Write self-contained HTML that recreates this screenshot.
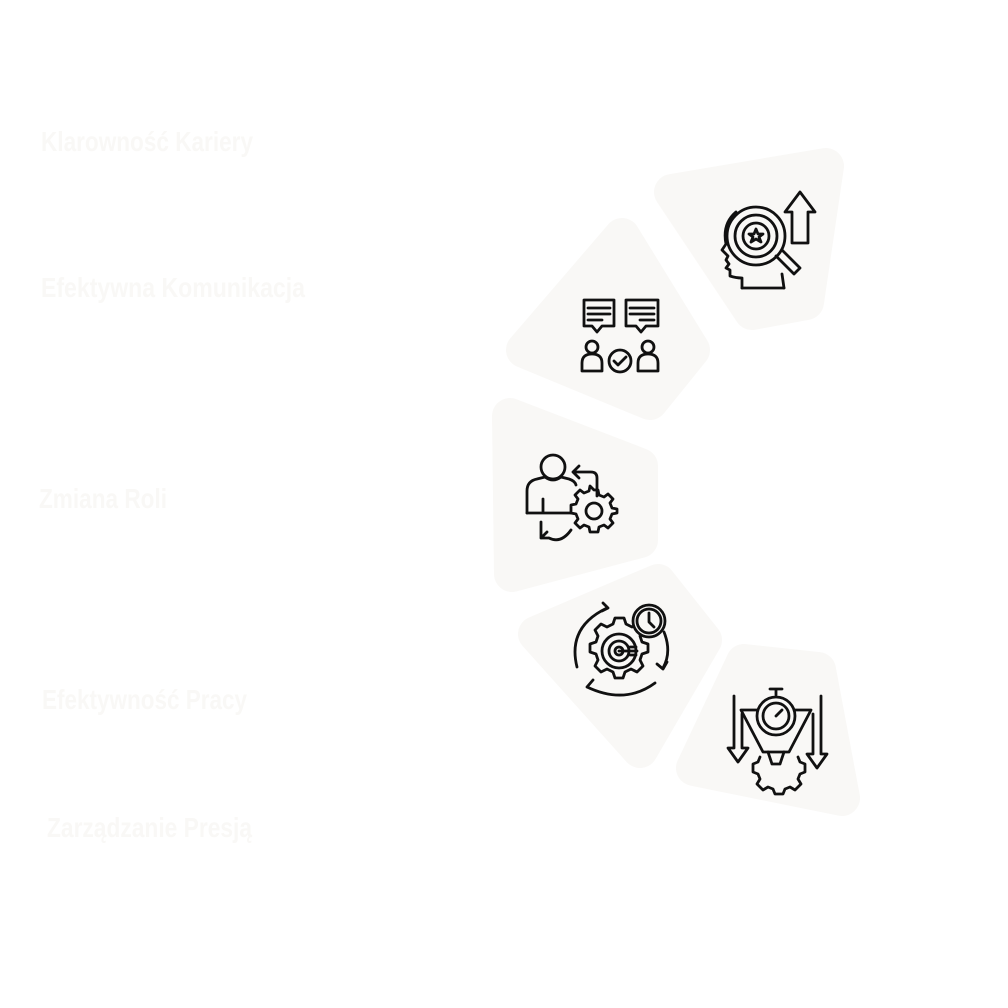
<!DOCTYPE html>
<html><head><meta charset="utf-8"><style>
html,body{margin:0;padding:0;background:#fff;width:1008px;height:1008px;overflow:hidden}
svg{display:block}
.lbl{font-family:"Liberation Sans",sans-serif;font-weight:bold;font-size:28px;fill:#f9f8f6}
.bg{fill:#f9f8f6;stroke:#f9f8f6;stroke-width:36;stroke-linejoin:round}
.ic{fill:none;stroke:#111;stroke-width:2.8;stroke-linejoin:round;stroke-linecap:round}
</style></head><body>
<svg width="1008" height="1008" viewBox="0 0 1008 1008">
<text class="lbl" x="41" y="151" textLength="212" lengthAdjust="spacingAndGlyphs">Klarowność Kariery</text>
<text class="lbl" x="41" y="297" textLength="264" lengthAdjust="spacingAndGlyphs">Efektywna Komunikacja</text>
<text class="lbl" x="39" y="508" textLength="128" lengthAdjust="spacingAndGlyphs">Zmiana Roli</text>
<text class="lbl" x="42" y="709" textLength="205" lengthAdjust="spacingAndGlyphs">Efektywność Pracy</text>
<text class="lbl" x="47" y="837" textLength="205" lengthAdjust="spacingAndGlyphs">Zarządzanie Presją</text>

<polygon class="bg" points="672,192 826,166 806,302 752,312"/>
<polygon class="bg" points="622,236 524,350 650,402 692,350"/>
<polygon class="bg" points="510,416 640,466 640,540 512,574"/>
<polygon class="bg" points="536,634 658,582 704,640 640,750"/>
<polygon class="bg" points="694,768 744,662 818,670 842,798"/>

<!-- icon 1: head + magnifier + arrow -->
<g class="ic">
<path d="M742,288 L742,278 Q736,278 730,276 L730,270 L726,268 L729,264 L726,260 L728,256 L722,250 L726,244 Q722,224 736,212"/>
<path d="M784,288 L782,274"/>
<path d="M742,288 H784"/>
<circle cx="756" cy="236" r="29" style="fill:#f9f8f6"/><circle cx="756" cy="236" r="21"/><circle cx="756" cy="236" r="13"/>
<path d="M756,229 l2,5 5,0 -4,3 2,5 -5,-3 -5,3 2,-5 -4,-3 5,0z"/>
<path d="M776,256 L794,274 L800,268 L782,250"/>
<path d="M792,243 L792,212 L785,212 L800,192 L815,212 L808,212 L808,243 Z"/>
</g>

<!-- icon 2: communication -->
<g class="ic">
<path d="M584,300 h30 v26 h-12 l-5,6 -5,-6 h-8 z"/>
<path d="M588,308 h22 M588,314 h22 M588,320 h14"/>
<path d="M626,300 h32 v26 h-12 l-5,6 -5,-6 h-10 z"/>
<path d="M630,308 h24 M630,314 h24 M640,320 h14"/>
<circle cx="592" cy="347" r="6"/><path d="M582,371 v-8 q0,-9 10,-9 q10,0 10,9 v8 z"/>
<circle cx="648" cy="347" r="6"/><path d="M638,371 v-8 q0,-9 10,-9 q10,0 10,9 v8 z"/>
<circle cx="620" cy="361" r="11"/><path d="M614,361 l4,4 8,-8"/>
</g>

<!-- icon 3: role change -->
<g class="ic">
<circle cx="553" cy="467" r="12"/>
<path d="M527,513 v-22 q0,-10 10,-12 l8,-2 q8,6 16,0 l8,2 q6,2 7,6"/>
<path d="M527,513 h44 M543,513 v-14"/>
<path d="M597,496 v-18 q0,-6 -6,-6 h-18 M579,466 l-6,6 6,6"/>
<circle cx="594" cy="511" r="8"/>
<path d="M594,490 l4,0 1,5 5,2 4,-3 5,5 -3,4 2,5 5,1 0,4 -5,1 -2,5 3,4 -5,5 -4,-3 -5,2 -1,5 -8,0 -1,-5 -5,-2 -4,3 -5,-5 3,-4 -2,-5 -5,-1 0,-8 5,-1 2,-5 -3,-4 5,-5 4,3 5,-2 1,-5z"/>
<path d="M541,522 v16 h8 M541,538 l6,-6 M549,538 q12,6 22,-8"/>
</g>

<!-- icon 4: efficiency target gear -->
<g class="ic">
<circle cx="619" cy="651" r="17"/><circle cx="619" cy="651" r="10"/><circle cx="619" cy="651" r="4"/>
<path d="M619,651 h18 M630,647 h6 M630,655 h6"/>
<path d="M619,618 l5,0 2,6 6,3 6,-3 5,6 -3,6 2,6 6,2 0,8 -6,2 -2,6 3,6 -6,6 -6,-3 -6,3 -2,6 -8,0 -2,-6 -6,-3 -6,3 -6,-6 3,-6 -2,-6 -6,-2 0,-8 6,-2 2,-6 -3,-6 6,-6 6,3 6,-3 2,-6z"/>
<circle cx="649" cy="621" r="16" style="fill:#f9f8f6"/><circle cx="649" cy="621" r="12"/>
<path d="M649,613 v9 l5,5"/>
<path d="M577,667 q-10,-40 30,-59 M603,603 l5,5 -6,3"/>
<path d="M664,632 q8,20 -1,36 M657,664 l6,5 4,-7"/>
<path d="M655,683 q-30,22 -68,4 M593,680 l-6,7 7,3"/>
</g>

<!-- icon 5: pressure -->
<g class="ic">
<path d="M770,689 h12 M776,689 v6"/>
<circle cx="776" cy="716" r="19"/><circle cx="776" cy="716" r="13"/>
<path d="M776,716 l6,-6"/>
<path d="M757,710 h-16 l22,42 h26 l22,-42 h-16"/>
<path d="M768,752 l4,12 h8 l4,-12"/>
<path d="M760,757 l-2,5 -5,2 0,8 5,2 2,5 -3,5 6,6 5,-3 5,2 2,5 h8 l2,-5 5,-2 5,3 6,-6 -3,-5 2,-5 5,-2 0,-8 -5,-2 -2,-5"/>
<path d="M734,696 v52 h-6 l10,14 10,-14 h-6 v-34"/>
<path d="M821,696 v58 h6 l-10,14 -10,-14 h6 v-40"/>
</g>
</svg>
</body></html>
